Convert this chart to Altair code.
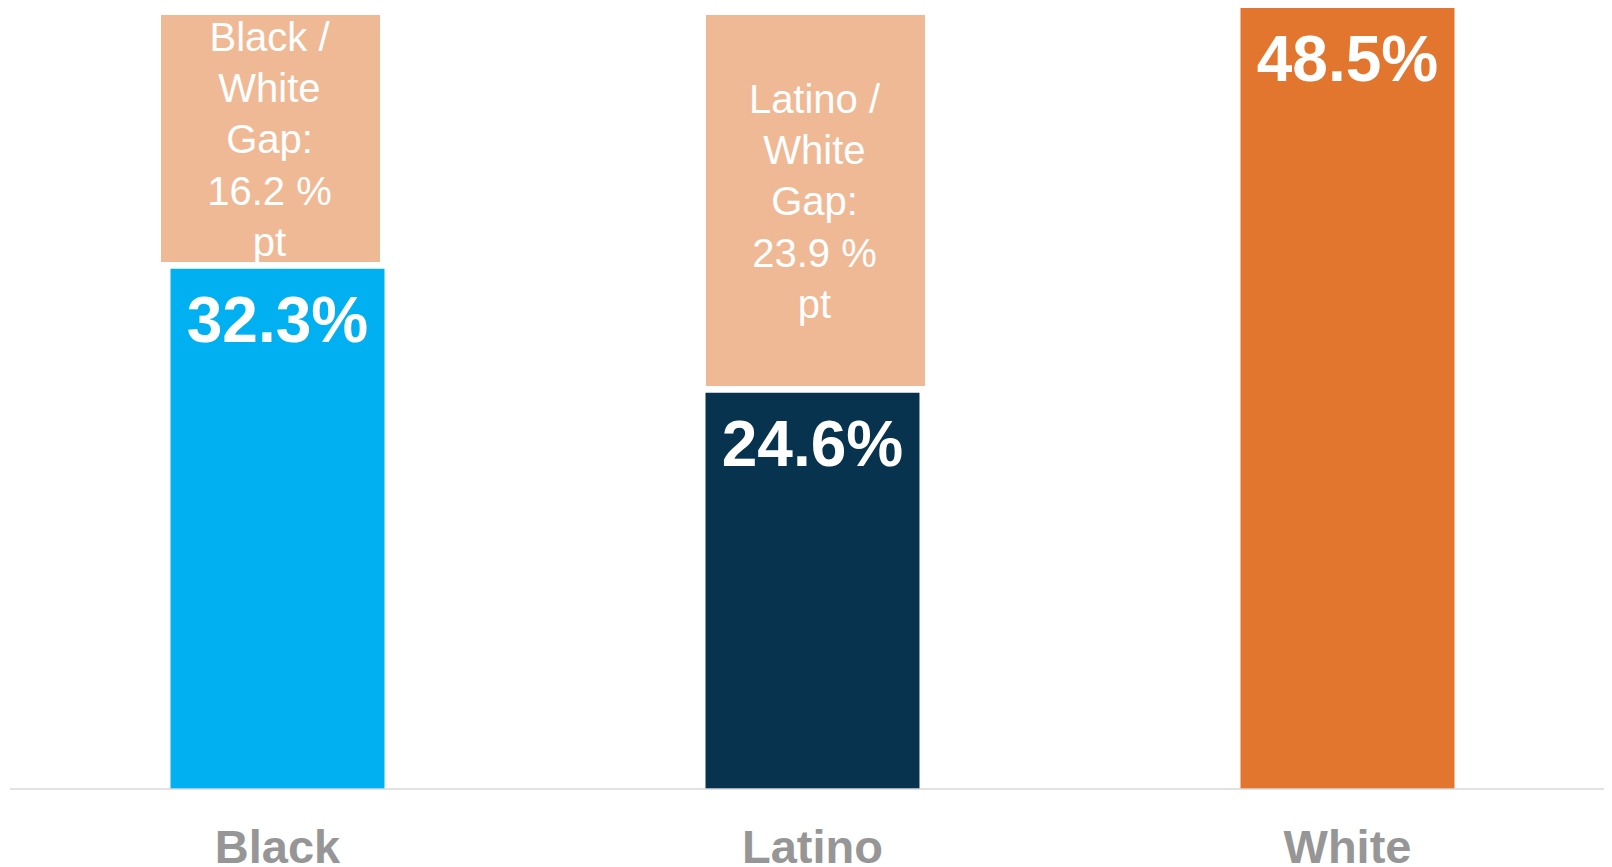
import altair as alt
import pandas as pd

groups = ["Black", "Latino", "White"]
rates = [32.3, 24.6, 48.5]
gaps = [16.2, 23.9, None]
gap_labels = ["Black /\nWhite\nGap:\n16.2 %\npt", "Latino /\nWhite\nGap:\n23.9 %\npt", ""]
bar_colors = ["#00B0F0", "#07334F", "#E3762E"]
gap_color = "#F0B995"

white_rate = rates[groups.index("White")]
df = pd.DataFrame({
    "group": groups,
    "rate": rates,
    "gap": gaps,
    "gap_label": gap_labels,
    "label": [f"{r}%" for r in rates],
})
df["box_lo"] = df["rate"] + 0.43
df["box_hi"] = white_rate - 0.43
df["box_mid"] = (df["box_lo"] + df["box_hi"]) / 2

W, H = 1596, 781
FONT = "Liberation Sans"
LH = 51.4

x = alt.X("group:N", sort=groups, title=None,
          scale=alt.Scale(paddingInner=0.6, paddingOuter=0.2916, align=0.5208),
          axis=alt.Axis(domain=False, ticks=False, tickSize=0, labelAngle=0,
                        labelFont=FONT, labelFontWeight="bold", labelFontSize=47,
                        labelColor="#969696", labelPadding=73,
                        labelBaseline="alphabetic", grid=False))
y = alt.Y("rate:Q", scale=alt.Scale(domain=[0, white_rate], nice=False, zero=True),
          axis=None)

base = alt.Chart(df)

bars = base.mark_bar().encode(
    x=x, y=y,
    color=alt.Color("group:N", scale=alt.Scale(domain=groups, range=bar_colors), legend=None),
)

labels = base.mark_text(font=FONT, fontWeight="bold", fontSize=64, color="white",
                        baseline="alphabetic", align="center", dy=73).encode(
    x=x, y=y, text="label:N")

layers = [bars, labels]
offsets = {"Black": -7, "Latino": 3}
for g, off in offsets.items():
    sub = base.transform_filter(alt.datum.group == g)
    box = sub.mark_bar(color=gap_color, width=219, xOffset=off).encode(
        x=x, y=alt.Y("box_lo:Q"), y2="box_hi:Q")
    txt = sub.mark_text(font=FONT, fontSize=40, color="white", lineBreak="\n",
                        lineHeight=LH, baseline="middle", align="center",
                        xOffset=off - 1, dy=3 - 2 * LH).encode(
        x=x, y=alt.Y("box_mid:Q"), text="gap_label:N")
    layers += [box, txt]

rule = base.transform_filter(alt.datum.group == "White").mark_rule(
    color="#D9D9D9", strokeWidth=1.5).encode(
    x=alt.value(2), x2=alt.value(W), y=alt.datum(0))
layers.append(rule)

chart = alt.layer(*layers).properties(
    width=W, height=H,
    autosize=alt.AutoSizeParams(type="none"),
    padding={"left": 0, "top": 0, "right": 0, "bottom": 78},
    background="white",
).configure_view(stroke=None)

chart.save("out.html", embed_options={"renderer": "svg", "actions": False})
